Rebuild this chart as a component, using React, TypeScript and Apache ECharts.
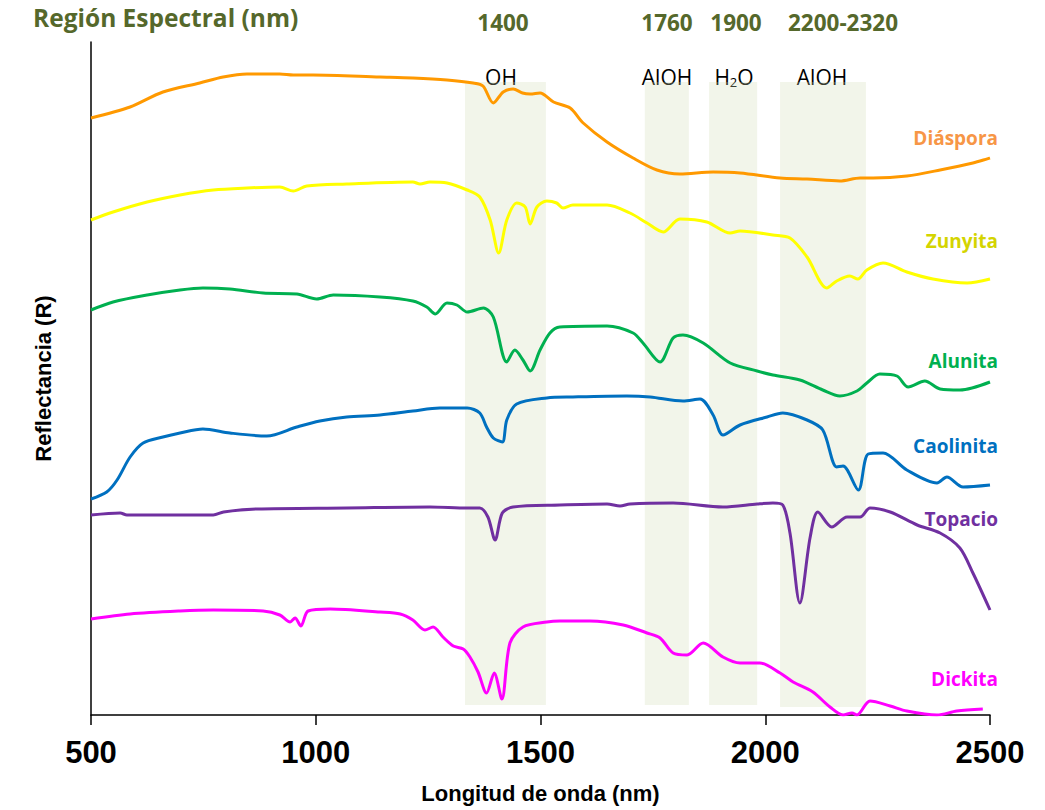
import React, { useEffect, useRef } from "react";
import * as echarts from "echarts";

// Wavelength (nm) / relative reflectance (offset curves)
const diaspora: [number, number][] = [
  [500, 5.97], [587, 6.08], [660, 6.23], [742, 6.32], [794, 6.38], [847, 6.41], [920, 6.41], [950, 6.40],
  [994, 6.40], [1143, 6.38], [1216, 6.37], [1292, 6.35], [1350, 6.32], [1372, 6.29], [1395, 6.12], [1417, 6.23],
  [1439, 6.26], [1460, 6.22], [1477, 6.21], [1499, 6.22], [1529, 6.13], [1566, 6.07], [1595, 5.92], [1648, 5.73],
  [1706, 5.57], [1759, 5.45], [1810, 5.41], [1884, 5.43], [1944, 5.42], [2033, 5.37], [2093, 5.36], [2166, 5.34],
  [2211, 5.37], [2240, 5.37], [2315, 5.39], [2389, 5.45], [2462, 5.52], [2500, 5.57],
];
const zunyita: [number, number][] = [
  [500, 4.95], [549, 5.03], [625, 5.13], [698, 5.20], [772, 5.25], [847, 5.27], [920, 5.28], [950, 5.24],
  [980, 5.29], [1069, 5.31], [1216, 5.33], [1232, 5.31], [1254, 5.33], [1292, 5.32], [1337, 5.25], [1365, 5.18],
  [1388, 4.95], [1407, 4.62], [1425, 4.95], [1447, 5.12], [1466, 5.08], [1477, 4.91], [1492, 5.08], [1514, 5.14],
  [1536, 5.12], [1550, 5.07], [1572, 5.10], [1648, 5.10], [1699, 5.02], [1737, 4.92], [1773, 4.83], [1810, 4.96],
  [1870, 4.93], [1922, 4.82], [1944, 4.84], [2017, 4.80], [2055, 4.77], [2093, 4.58], [2137, 4.27], [2159, 4.34],
  [2188, 4.39], [2206, 4.36], [2226, 4.45], [2262, 4.52], [2315, 4.43], [2373, 4.36], [2449, 4.32], [2500, 4.36],
];
const alunita: [number, number][] = [
  [500, 4.05], [549, 4.13], [625, 4.20], [698, 4.25], [749, 4.27], [809, 4.26], [883, 4.22], [958, 4.21],
  [1002, 4.16], [1039, 4.20], [1143, 4.18], [1216, 4.14], [1247, 4.08], [1266, 4.01], [1292, 4.12], [1314, 4.10],
  [1337, 4.03], [1373, 4.07], [1395, 3.98], [1425, 3.53], [1443, 3.65], [1461, 3.55], [1477, 3.44], [1499, 3.65],
  [1521, 3.82], [1543, 3.88], [1648, 3.89], [1706, 3.82], [1728, 3.72], [1766, 3.53], [1795, 3.77], [1817, 3.80],
  [1862, 3.72], [1922, 3.52], [1982, 3.44], [2017, 3.40], [2077, 3.35], [2128, 3.25], [2166, 3.19], [2204, 3.24],
  [2226, 3.32], [2255, 3.41], [2293, 3.39], [2318, 3.28], [2355, 3.34], [2389, 3.26], [2433, 3.25], [2500, 3.33],
];
const caolinita: [number, number][] = [
  [500, 2.16], [535, 2.23], [558, 2.35], [587, 2.58], [616, 2.72], [660, 2.78], [698, 2.82], [749, 2.86],
  [809, 2.82], [891, 2.79], [958, 2.88], [1009, 2.94], [1069, 2.98], [1143, 3.00], [1216, 3.04], [1276, 3.07],
  [1337, 3.07], [1365, 3.02], [1380, 2.88], [1395, 2.77], [1415, 2.73], [1425, 2.95], [1447, 3.11], [1514, 3.17],
  [1572, 3.18], [1692, 3.19], [1744, 3.18], [1817, 3.14], [1855, 3.16], [1884, 3.00], [1906, 2.80], [1944, 2.90],
  [2004, 2.98], [2039, 3.02], [2093, 2.95], [2128, 2.85], [2159, 2.48], [2173, 2.49], [2207, 2.25], [2229, 2.61],
  [2262, 2.62], [2315, 2.45], [2382, 2.32], [2404, 2.38], [2440, 2.28], [2500, 2.30],
];
const topacio: [number, number][] = [
  [500, 2.00], [565, 2.02], [580, 2.00], [772, 2.00], [795, 2.03], [869, 2.06], [1069, 2.07], [1254, 2.08],
  [1337, 2.07], [1365, 2.07], [1383, 1.98], [1399, 1.75], [1415, 2.02], [1439, 2.08], [1543, 2.10], [1648, 2.11],
  [1677, 2.09], [1699, 2.11], [1795, 2.12], [1906, 2.08], [1982, 2.11], [2017, 2.12], [2039, 2.10], [2055, 1.82],
  [2077, 1.12], [2100, 1.78], [2117, 2.03], [2148, 1.88], [2182, 1.98], [2211, 1.98], [2233, 2.07], [2278, 2.03],
  [2338, 1.90], [2389, 1.82], [2433, 1.67], [2462, 1.42], [2500, 1.05],
];
const dickita: [number, number][] = [
  [500, 0.96], [587, 1.01], [698, 1.04], [772, 1.05], [883, 1.04], [920, 1.00], [943, 0.93], [954, 0.97],
  [967, 0.89], [983, 1.04], [1032, 1.06], [1143, 1.03], [1188, 1.01], [1216, 0.95], [1243, 0.85], [1261, 0.88],
  [1283, 0.78], [1306, 0.69], [1328, 0.66], [1343, 0.58], [1361, 0.43], [1380, 0.22], [1397, 0.42], [1414, 0.16],
  [1432, 0.72], [1461, 0.88], [1514, 0.93], [1543, 0.94], [1610, 0.94], [1684, 0.90], [1737, 0.82], [1766, 0.77],
  [1795, 0.62], [1826, 0.60], [1862, 0.72], [1906, 0.58], [1944, 0.52], [1988, 0.52], [2033, 0.42], [2062, 0.33],
  [2106, 0.23], [2144, 0.08], [2173, 0.00], [2193, 0.02], [2204, 0.00], [2233, 0.14], [2278, 0.09], [2315, 0.04],
  [2382, 0.00], [2426, 0.04], [2484, 0.06],
];

const seriesNames = ["Diáspora", "Zunyita", "Alunita", "Caolinita", "Topacio", "Dickita"];
const seriesData = [diaspora, zunyita, alunita, caolinita, topacio, dickita];
const lineColors = ["#ff9900", "#ffff00", "#00b050", "#0070c0", "#7030a0", "#ff00ff"];
const labelColors = ["#f79646", "#d4d400", "#00b050", "#0070c0", "#7030a0", "#ff00ff"];

// absorption bands: [start nm, end nm]
const bandStarts = [1332, 1732, 1875, 2033];
const bandEnds = [1512, 1830, 1982, 2224];
const bandHeaders = ["1400", "1760", "1900", "2200-2320"];
const bandCompounds = ["OH", "AlOH", "{n|H}{s|2}{n|O}", "AlOH"];

const xTicks = [500, 1000, 1500, 2000, 2500];

export default function App() {
  const ref = useRef<HTMLDivElement>(null);
  useEffect(() => {
    if (!ref.current) return;
    const chart = echarts.init(ref.current, null, { renderer: "svg" });
    const gridLeft = 91, gridRight = 55, gridTop = 42, gridBottom = 95;

    const labelY = [138, 241, 361, 446, 519, 679];
    const headerCenters = [503, 667, 736, 843];
    const compoundCenters = [501, 667, 734, 822];
    const sansFont = "'Open Sans', Lato, sans-serif";

    const graphics: any[] = [
      {
        type: "text", left: 33, top: 5,
        style: { text: "Región Espectral (nm)", fill: "#55682b", font: `bold 24.5px ${sansFont}` },
      },
    ];
    bandHeaders.forEach((t, i) => {
      graphics.push({
        type: "text", x: headerCenters[i], y: 22,
        style: { text: t, fill: "#55682b", font: `bold 22.5px ${sansFont}`, align: "center", verticalAlign: "middle" },
      });
    });
    bandCompounds.forEach((t, i) => {
      graphics.push({
        type: "text", x: compoundCenters[i], y: 77,
        style: {
          text: t, fill: "#000", font: `21px ${sansFont}`, align: "center", verticalAlign: "middle",
          rich: {
            n: { fontSize: 21, fontFamily: sansFont, fill: "#000" },
            s: { fontSize: 13, fontFamily: sansFont, fill: "#000", padding: [10, 0, 0, 0] },
          },
        },
      });
    });
    seriesNames.forEach((n, i) => {
      graphics.push({
        type: "text", x: 998, y: labelY[i],
        style: { text: n, fill: labelColors[i], font: `bold 19px ${sansFont}`, align: "right", verticalAlign: "middle" },
      });
    });

    const lineSeries = seriesData.map((d, i) => ({
      name: seriesNames[i],
      type: "line",
      data: d,
      showSymbol: false,
      smooth: 0.3,
      lineStyle: { color: lineColors[i], width: 3 },
      z: 2,
    }));

    const bandSeries = {
      type: "line",
      data: [],
      z: 4,
      silent: true,
      markArea: {
        silent: true,
        itemStyle: { color: "#cfdcb2", opacity: 0.28 },
        data: bandStarts.map((s, i) => [
          { xAxis: s, yAxis: 6.33 },
          { xAxis: bandEnds[i], yAxis: i === 3 ? 0.08 : 0.1 },
        ]),
      },
    };

    chart.setOption({
      animation: false,
      grid: { left: gridLeft, right: gridRight, top: gridTop, bottom: gridBottom },
      xAxis: {
        type: "value",
        min: 500,
        max: 2500,
        interval: 500,
        axisLine: { show: true, lineStyle: { color: "#000", width: 1.5 } },
        axisTick: { show: true, length: 10, lineStyle: { color: "#000", width: 1.5 } },
        splitLine: { show: false },
        axisLabel: {
          color: "#000", fontSize: 31, fontWeight: "bold", margin: 22,
          fontFamily: "'Liberation Sans Narrow', 'Liberation Sans', Arial, sans-serif",
          formatter: (v: number) => (xTicks.includes(v) ? String(v) : ""),
        },
        name: "Longitud de onda (nm)",
        nameLocation: "middle",
        nameGap: 67,
        nameTextStyle: { color: "#000", fontSize: 22, fontWeight: "bold", fontFamily: "'Liberation Sans', Arial, sans-serif" },
      },
      yAxis: {
        type: "value",
        min: 0,
        max: 6.73,
        axisLine: { show: true, lineStyle: { color: "#000", width: 1.5 } },
        axisTick: { show: false },
        axisLabel: { show: false },
        splitLine: { show: false },
        name: "Reflectancia (R)",
        nameLocation: "middle",
        nameGap: 37,
        nameTextStyle: { color: "#000", fontSize: 22, fontWeight: "bold", fontFamily: "'Liberation Sans', Arial, sans-serif" },
      },
      graphic: graphics,
      series: [...lineSeries, bandSeries],
    });
    return () => chart.dispose();
  }, []);
  return <div ref={ref} style={{ width: 1045, height: 810, position: "absolute", left: 0, top: 0 }} />;
}
